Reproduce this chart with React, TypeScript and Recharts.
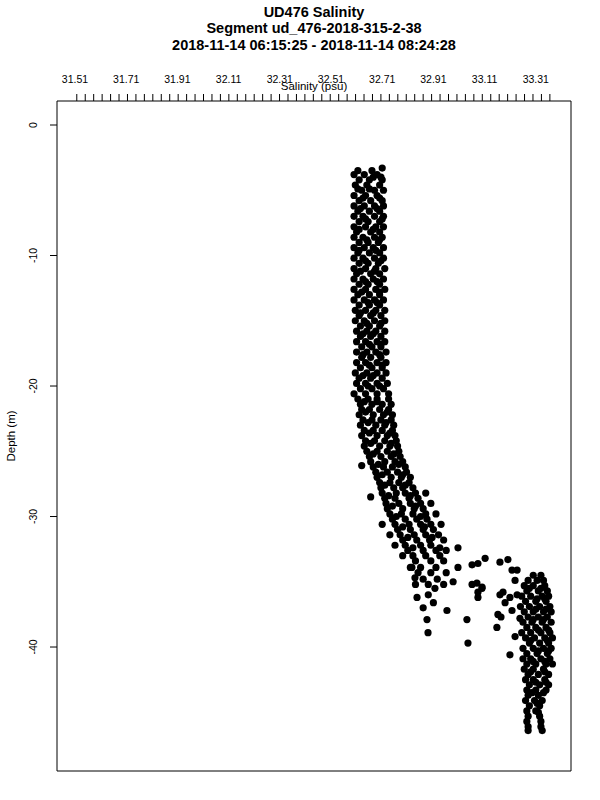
import { ScatterChart, Scatter, XAxis, YAxis, ReferenceArea } from "recharts";

const FONT = "'Liberation Sans', Arial, Helvetica, sans-serif";

const titleLines = [
  "UD476 Salinity",
  "Segment ud_476-2018-315-2-38",
  "2018-11-14 06:15:25 - 2018-11-14 08:24:28",
];

// axis setup
const salinityLabels = [31.51, 31.71, 31.91, 32.11, 32.31, 32.51, 32.71, 32.91, 33.11, 33.31];
const depthTicks = [0, -10, -20, -30, -40];
const xDomain: [number, number] = [31.4397, 33.4475];
const yDomain: [number, number] = [-49.5, 1.84];
const minorTickStart = 31.517;
const minorTickStep = 0.033;
const minorTickCount = 57;
const minorTicks = Array.from({ length: minorTickCount }, (_, i) =>
  Number((minorTickStart + i * minorTickStep).toFixed(4))
);

// [depth, salinities at that depth]
const upperRows: [number, number[]][] = [
  [-3.3, [32.71]],
  [-3.5, [32.615, 32.67]],
  [-3.8, [32.6, 32.64, 32.69]],
  [-4.2, [32.62, 32.66, 32.71]],
  [-4.6, [32.605, 32.65, 32.7]],
  [-5.0, [32.63, 32.68, 32.715]],
  [-5.4, [32.6, 32.645, 32.69]],
  [-5.8, [32.62, 32.665, 32.71]],
  [-6.2, [32.6, 32.64, 32.68, 32.715]],
  [-6.6, [32.615, 32.66, 32.7]],
  [-7.0, [32.6, 32.635, 32.68, 32.715]],
  [-7.4, [32.62, 32.655, 32.7]],
  [-7.8, [32.6, 32.645, 32.685, 32.715]],
  [-8.2, [32.61, 32.665, 32.7]],
  [-8.6, [32.6, 32.635, 32.68, 32.71]],
  [-9.0, [32.62, 32.655, 32.695]],
  [-9.4, [32.6, 32.64, 32.675, 32.715]],
  [-9.8, [32.615, 32.66, 32.7]],
  [-10.2, [32.6, 32.635, 32.68, 32.715]],
  [-10.6, [32.62, 32.655, 32.695]],
  [-11.0, [32.6, 32.645, 32.685, 32.72]],
  [-11.4, [32.61, 32.665, 32.7]],
  [-11.8, [32.6, 32.635, 32.675, 32.715]],
  [-12.2, [32.62, 32.655, 32.7]],
  [-12.6, [32.6, 32.645, 32.685, 32.72]],
  [-13.0, [32.615, 32.66, 32.7]],
  [-13.4, [32.6, 32.64, 32.68, 32.715]],
  [-13.8, [32.62, 32.66, 32.7]],
  [-14.2, [32.605, 32.645, 32.685, 32.72]],
  [-14.6, [32.62, 32.665, 32.705]],
  [-15.0, [32.605, 32.64, 32.68, 32.72]],
  [-15.4, [32.625, 32.66, 32.7]],
  [-15.8, [32.61, 32.65, 32.685, 32.72]],
  [-16.2, [32.625, 32.665, 32.705]],
  [-16.6, [32.61, 32.645, 32.69, 32.72]],
  [-17.0, [32.63, 32.67, 32.705]],
  [-17.4, [32.61, 32.65, 32.685, 32.725]],
  [-17.8, [32.63, 32.665, 32.705]],
  [-18.2, [32.61, 32.645, 32.69, 32.725]],
  [-18.6, [32.625, 32.67, 32.71]],
  [-19.0, [32.605, 32.65, 32.69, 32.725]],
  [-19.4, [32.62, 32.665, 32.71]],
  [-19.8, [32.61, 32.645, 32.69, 32.73]],
  [-20.2, [32.625, 32.67, 32.715]],
  [-20.6, [32.6, 32.645, 32.69, 32.735]],
];

// extra readings that fill the gaps in the upper column
const upperFillRows: [number, number[]][] = [
  [-4.0, [32.675, 32.705]],
  [-4.9, [32.615, 32.66]],
  [-5.6, [32.635, 32.7]],
  [-6.4, [32.625, 32.69]],
  [-7.2, [32.645, 32.71]],
  [-8.0, [32.62, 32.675]],
  [-8.8, [32.65, 32.7]],
  [-9.6, [32.62, 32.685]],
  [-10.4, [32.645, 32.705]],
  [-11.2, [32.625, 32.68]],
  [-12.0, [32.645, 32.69]],
  [-12.8, [32.63, 32.7]],
  [-13.6, [32.655, 32.69]],
  [-14.4, [32.625, 32.675]],
  [-15.2, [32.65, 32.705]],
  [-16.0, [32.635, 32.675]],
  [-16.8, [32.66, 32.705]],
  [-17.6, [32.635, 32.7]],
  [-18.4, [32.66, 32.71]],
  [-19.2, [32.635, 32.675]],
  [-20.0, [32.655, 32.7]],
];

const transitionRows: [number, number[]][] = [
  [-21.0, [32.615, 32.655, 32.69, 32.735]],
  [-21.4, [32.625, 32.67, 32.71, 32.745]],
  [-21.8, [32.63, 32.66, 32.7, 32.735]],
  [-22.2, [32.62, 32.675, 32.715, 32.75]],
  [-22.6, [32.635, 32.67, 32.705, 32.745]],
  [-23.0, [32.625, 32.685, 32.72, 32.755]],
  [-23.4, [32.64, 32.675, 32.71, 32.75]],
  [-23.8, [32.63, 32.69, 32.73, 32.76]],
  [-24.2, [32.645, 32.68, 32.72, 32.765]],
  [-24.6, [32.64, 32.7, 32.74, 32.77]],
  [-25.0, [32.65, 32.69, 32.73, 32.775]],
  [-25.4, [32.66, 32.705, 32.745, 32.78]],
  [-25.8, [32.665, 32.72, 32.76, 32.79]],
  [-26.1, [32.63]],
  [-26.2, [32.675, 32.715, 32.75, 32.8]],
  [-26.6, [32.685, 32.73, 32.77, 32.805]],
  [-27.0, [32.69, 32.745, 32.785, 32.82]],
  [-27.4, [32.7, 32.74, 32.775, 32.815]],
  [-27.8, [32.705, 32.755, 32.79, 32.83]],
  [-28.2, [32.71, 32.765, 32.8, 32.84, 32.88]],
  [-28.5, [32.665]],
  [-28.6, [32.72, 32.76, 32.815, 32.85]],
  [-29.0, [32.725, 32.775, 32.82, 32.86, 32.9]],
  [-29.4, [32.73, 32.79, 32.835, 32.87]],
  [-29.8, [32.74, 32.785, 32.83, 32.88, 32.92]],
  [-30.2, [32.75, 32.8, 32.845, 32.885]],
  [-30.6, [32.71, 32.76, 32.815, 32.86, 32.9, 32.94]],
  [-31.0, [32.77, 32.82, 32.87, 32.91]],
  [-31.4, [32.74, 32.78, 32.835, 32.88, 32.93]],
  [-31.8, [32.79, 32.845, 32.895, 32.95]],
  [-32.2, [32.76, 32.8, 32.86, 32.9]],
  [-32.6, [32.81, 32.87, 32.92, 32.96]],
  [-33.0, [32.79, 32.83, 32.88, 32.935]],
  [-33.4, [32.84, 32.9, 32.95]],
  [-33.9, [32.82, 32.86, 32.92]],
  [-34.3, [32.85, 32.9, 32.96]],
  [-34.8, [32.87, 32.925]],
  [-35.2, [32.84, 32.89, 32.95]],
];

const transitionFillRows: [number, number[]][] = [
  [-21.2, [32.64, 32.69]],
  [-22.0, [32.645, 32.73]],
  [-22.8, [32.655, 32.725]],
  [-23.6, [32.66, 32.74]],
  [-24.4, [32.665, 32.745]],
  [-25.2, [32.675, 32.755]],
  [-26.0, [32.695, 32.775]],
  [-26.8, [32.71, 32.79]],
  [-27.6, [32.72, 32.8]],
  [-28.4, [32.735, 32.82]],
  [-29.2, [32.75, 32.84]],
  [-30.0, [32.765, 32.86]],
  [-30.8, [32.79, 32.875]],
  [-31.6, [32.81, 32.905]],
  [-32.4, [32.83, 32.935]],
];

const bottomRows: [number, number[]][] = [
  [-34.5, [33.3, 33.33]],
  [-34.9, [33.28, 33.315, 33.34]],
  [-35.3, [33.265, 33.3, 33.345]],
  [-35.7, [33.275, 33.32, 33.355]],
  [-36.1, [33.255, 33.29, 33.335, 33.36]],
  [-36.5, [33.27, 33.31, 33.35]],
  [-36.9, [33.25, 33.285, 33.325, 33.365]],
  [-37.3, [33.265, 33.3, 33.34, 33.37]],
  [-37.7, [33.28, 33.32, 33.355]],
  [-38.1, [33.26, 33.295, 33.335, 33.37]],
  [-38.5, [33.275, 33.31, 33.35]],
  [-38.9, [33.255, 33.29, 33.33, 33.365]],
  [-39.3, [33.27, 33.305, 33.345, 33.375]],
  [-39.7, [33.285, 33.325, 33.36]],
  [-40.1, [33.26, 33.3, 33.34, 33.37]],
  [-40.5, [33.275, 33.315, 33.355]],
  [-40.9, [33.26, 33.29, 33.33, 33.365]],
  [-41.3, [33.275, 33.31, 33.35, 33.375]],
  [-41.7, [33.265, 33.3, 33.34]],
  [-42.1, [33.28, 33.32, 33.36]],
  [-42.5, [33.27, 33.3, 33.345]],
  [-42.9, [33.285, 33.325, 33.36]],
  [-43.3, [33.275, 33.31, 33.35]],
  [-43.7, [33.28, 33.32]],
  [-44.1, [33.27, 33.305, 33.335]],
  [-44.5, [33.285, 33.325]],
  [-44.9, [33.275, 33.31]],
  [-45.3, [33.28, 33.325]],
  [-45.7, [33.275, 33.33]],
  [-46.1, [33.28, 33.33]],
  [-46.4, [33.28, 33.335]],
];

const bottomFillRows: [number, number[]][] = [
  [-35.5, [33.285, 33.33]],
  [-36.3, [33.315, 33.345]],
  [-37.1, [33.31, 33.35]],
  [-37.9, [33.3, 33.34]],
  [-38.7, [33.32, 33.36]],
  [-39.5, [33.29, 33.355]],
  [-40.3, [33.32, 33.36]],
  [-41.1, [33.3, 33.345]],
  [-41.9, [33.29, 33.345]],
  [-42.7, [33.31, 33.35]],
  [-43.5, [33.295, 33.34]],
  [-44.3, [33.315]],
  [-45.0, [33.32]],
];

// loose points between the two water masses: [salinity, depth]
const scatterPoints: [number, number][] = [
  [32.826, -33.9], [32.838, -34.7], [32.846, -36.2], [32.87, -37.0], [32.89, -36.0],
  [32.91, -36.6], [32.916, -35.5], [32.885, -37.9], [32.889, -38.9], [32.963, -37.2],
  [33.006, -32.4], [33.006, -33.9], [32.987, -35.0], [33.061, -33.7], [33.084, -33.6],
  [33.112, -33.2], [33.061, -35.2], [33.08, -35.1], [33.1, -35.4], [33.084, -35.8],
  [33.084, -36.2], [33.041, -37.9], [33.045, -39.7],
  [33.17, -33.5], [33.201, -33.3], [33.217, -34.1], [33.237, -34.1], [33.229, -34.9],
  [33.17, -36.0], [33.182, -35.8], [33.209, -36.2], [33.237, -36.0], [33.19, -36.6],
  [33.217, -37.2], [33.162, -37.5], [33.158, -38.5], [33.229, -39.2], [33.209, -40.6],
  [33.248, -37.8], [33.1, -35.5], [33.174, -37.7],
];

const rowsToPoints = (rows: [number, number[]][]) =>
  rows.flatMap(([depth, sals]) => sals.map((s) => ({ salinity: s, depth })));

const points = [
  ...rowsToPoints(upperRows),
  ...rowsToPoints(upperFillRows),
  ...rowsToPoints(transitionRows),
  ...rowsToPoints(transitionFillRows),
  ...rowsToPoints(bottomRows),
  ...rowsToPoints(bottomFillRows),
  ...scatterPoints.map(([s, d]) => ({ salinity: s, depth: d })),
];

const Dot = (props: any) => <circle cx={props.cx} cy={props.cy} r={3.6} fill="#000" />;

const DepthTick = (props: any) => {
  const { x, y, payload } = props;
  return (
    <text
      x={x}
      y={y}
      transform={`rotate(-90, ${x}, ${y})`}
      textAnchor="middle"
      fontSize={10.5}
      fontFamily={FONT}
      fill="#000"
    >
      {payload.value}
    </text>
  );
};

// axis ids: "a" sits next to the plot, "b" above it
export default function App() {
  return (
    <div style={{ position: "absolute", left: 0, top: 0, width: 600, height: 800, background: "#fff" }}>
      <ScatterChart width={600} height={800} margin={{ top: 60, right: 29, bottom: 29, left: 0 }}>
        <XAxis
          xAxisId="a"
          orientation="top"
          type="number"
          dataKey="salinity"
          domain={xDomain}
          allowDataOverflow
          ticks={minorTicks}
          interval={0}
          tick={() => <g />}
          tickSize={7}
          tickLine={{ stroke: "#000" }}
          axisLine={false}
          height={7}
        />
        <XAxis
          xAxisId="b"
          orientation="top"
          type="number"
          dataKey="salinity"
          domain={xDomain}
          allowDataOverflow
          ticks={salinityLabels}
          interval={0}
          tickFormatter={(v: number) => v.toFixed(2)}
          tick={{ fontSize: 10.5, fill: "#000", fontFamily: FONT }}
          tickLine={false}
          axisLine={false}
          tickSize={0}
          tickMargin={11}
          height={34}
        />
        <YAxis
          yAxisId="depth"
          type="number"
          dataKey="depth"
          domain={yDomain}
          allowDataOverflow
          ticks={depthTicks}
          interval={0}
          width={57}
          tickSize={7}
          tickMargin={13}
          tickLine={{ stroke: "#000" }}
          axisLine={false}
          tick={DepthTick}
        />
        <ReferenceArea
          xAxisId="a"
          yAxisId="depth"
          x1={xDomain[0]}
          x2={xDomain[1]}
          y1={yDomain[0]}
          y2={yDomain[1]}
          fill="none"
          stroke="#000"
          strokeWidth={1}
          ifOverflow="visible"
        />
        <Scatter
          xAxisId="a"
          yAxisId="depth"
          data={points}
          shape={Dot}
          isAnimationActive={false}
        />
      </ScatterChart>
      <svg
        width={600}
        height={800}
        style={{ position: "absolute", left: 0, top: 0, pointerEvents: "none" }}
        fontFamily={FONT}
      >
        {titleLines.map((t, i) => (
          <text key={t} x={314} y={16.5 + i * 16.5} textAnchor="middle" fontSize={14.5} fontWeight="bold" fill="#000">
            {t}
          </text>
        ))}
        <text x={314} y={90} textAnchor="middle" fontSize={11.5} fill="#000">
          Salinity (psu)
        </text>
        <text x={15} y={436} transform="rotate(-90, 15, 436)" textAnchor="middle" fontSize={11.5} fill="#000">
          Depth (m)
        </text>
      </svg>
    </div>
  );
}
